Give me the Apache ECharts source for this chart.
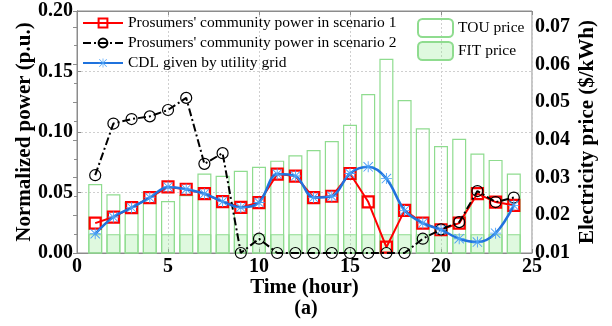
<!DOCTYPE html>
<html>
<head>
<meta charset="utf-8">
<script src="https://cdn.jsdelivr.net/npm/echarts@6/dist/echarts.min.js"></script>
<style>
  html, body { margin: 0; padding: 0; background: #fff; }
  #chart { width: 612px; height: 326px; }
</style>
</head>
<body>
<div id="chart"></div>
<script>
// Hourly data, one entry per hour 1..24
const hours = [1,2,3,4,5,6,7,8,9,10,11,12,13,14,15,16,17,18,19,20,21,22,23,24];

// Prosumers' community power (p.u.) in scenario 1 and 2
const scenario1 = [0.0247,0.0297,0.0375,0.0458,0.0546,0.0527,0.0490,0.0425,0.0377,0.0417,0.0652,0.0636,
                   0.0458,0.0469,0.0657,0.0423,0.0048,0.0352,0.0247,0.0192,0.0247,0.0490,0.0421,0.0394];
const scenario2 = [0.0643,0.1070,0.1107,0.1129,0.1182,0.1282,0.0737,0.0825,0.0000,0.0118,0.0000,0.0000,
                   0.0000,0.0000,0.0000,0.0000,0.0000,0.0000,0.0118,0.0195,0.0255,0.0512,0.0421,0.0458];
// Customized demand limit given by the utility grid (p.u.)
const cdl = [0.0159,0.0297,0.0375,0.0458,0.0546,0.0527,0.0490,0.0425,0.0377,0.0417,0.0652,0.0636,
             0.0458,0.0469,0.0657,0.0712,0.0615,0.0352,0.0247,0.0192,0.0118,0.0090,0.0164,0.0394];

// Electricity prices ($/kWh)
const touPrice = [0.0283,0.0256,0.0236,0.0263,0.0238,0.0254,0.0311,0.0305,0.0318,0.0329,0.0345,0.0359,
                  0.0373,0.0397,0.0440,0.0522,0.0615,0.0506,0.0431,0.0384,0.0403,0.0364,0.0347,0.0311];
const fitPrice = [0.015,0.015,0.015,0.015,0.015,0.015,0.015,0.015,0.015,0.015,0.015,0.015,
                  0.015,0.015,0.015,0.015,0.015,0.015,0.015,0.015,0.015,0.015,0.015,0.015];

// Axis tick values
const xTicks = [0, 5, 10, 15, 20, 25];
const powerTicks = [0.00, 0.05, 0.10, 0.15, 0.20];
const priceTicks = [0.01, 0.02, 0.03, 0.04, 0.05, 0.06, 0.07];

const pair = (ys) => hours.map((h, i) => [h, ys[i]]);

const SERIF = "'Liberation Serif', 'Times New Roman', serif";
const FRAME = '#8c8c8c';

// Asterisk marker built from four thin bars
const STAR = 'path://M9.2,0L10.8,0L10.8,20L9.2,20Z' +
             'M0,9.2L20,9.2L20,10.8L0,10.8Z' +
             'M2.07,0.93L19.07,17.93L17.93,19.07L0.93,2.07Z' +
             'M19.07,2.07L2.07,19.07L0.93,17.93L17.93,0.93Z';

const chart = echarts.init(document.getElementById('chart'), null, { renderer: 'canvas' });

const tickLabel = { color: '#000', fontFamily: SERIF, fontWeight: 'bold', fontSize: 20 };
const axisName = { fontFamily: SERIF, fontWeight: 'bold', fontSize: 21, color: '#000' };

chart.setOption({
  animation: false,
  backgroundColor: '#fff',
  grid: { left: 77, right: 80, top: 11, bottom: 73, show: true, borderColor: FRAME, borderWidth: 1, backgroundColor: 'transparent' },
  legend: [
    {
      data: ["Prosumers' community power in scenario 1", "Prosumers' community power in scenario 2", 'CDL given by utility grid'],
      orient: 'vertical', left: 77, top: 10, itemWidth: 40, itemHeight: 11, itemGap: 4,
      textStyle: { fontFamily: SERIF, fontSize: 15.5, color: '#000' }
    },
    {
      data: ['TOU price', 'FIT price'],
      orient: 'vertical', left: 412, top: 13, itemWidth: 35, itemHeight: 18, itemGap: 3,
      textStyle: { fontFamily: SERIF, fontSize: 15.5, color: '#000' }
    }
  ],
  xAxis: [
    {
      type: 'value', min: xTicks[0], max: xTicks[xTicks.length - 1], interval: 5,
      name: 'Time (hour)', nameLocation: 'middle', nameGap: 24, nameMoveOverlap: false,
      nameTextStyle: axisName,
      axisLine: { lineStyle: { color: FRAME } },
      axisTick: { inside: true, length: 4, lineStyle: { color: FRAME } },
      axisLabel: Object.assign({ margin: 4 }, tickLabel),
      splitLine: { show: true, lineStyle: { color: '#cfcfcf', type: [2, 2] } }
    },
    {
      type: 'value', position: 'top', min: xTicks[0], max: xTicks[xTicks.length - 1], interval: 5,
      axisLine: { lineStyle: { color: FRAME } },
      axisTick: { inside: true, length: 4, lineStyle: { color: FRAME } },
      axisLabel: { show: false }, splitLine: { show: false }
    }
  ],
  yAxis: [
    {
      type: 'value', min: powerTicks[0], max: powerTicks[powerTicks.length - 1], interval: 0.05,
      name: 'Normalized power (p.u.)', nameLocation: 'middle', nameGap: 42, nameMoveOverlap: false,
      nameTextStyle: axisName,
      axisLine: { show: true, lineStyle: { color: FRAME } },
      axisTick: { show: true, inside: true, length: 4, lineStyle: { color: FRAME } },
      axisLabel: Object.assign({ margin: 4, formatter: v => v.toFixed(2) }, tickLabel),
      splitLine: { show: true, lineStyle: { color: '#cfcfcf', type: [2, 2] } }
    },
    {
      type: 'value', position: 'right', min: priceTicks[0], max: 0.0742, interval: 0.01,
      name: 'Electricity price ($/kWh)', nameLocation: 'middle', nameGap: 45, nameRotate: 90, nameMoveOverlap: false,
      nameTextStyle: axisName,
      axisLine: { show: true, lineStyle: { color: FRAME } },
      axisTick: { show: true, inside: true, length: 4, lineStyle: { color: FRAME } },
      minorTick: { show: true, splitNumber: 2, length: 3, lineStyle: { color: FRAME } },
      axisLabel: Object.assign({ margin: 3, showMaxLabel: false, formatter: v => v.toFixed(2) }, tickLabel),
      splitLine: { show: false }
    }
  ],
  graphic: [
    { type: 'text', left: 'center', top: 299, style: { text: '(a)', font: "bold 20px 'Liberation Serif', serif", fill: '#000' } }
  ],
  series: [
    {
      name: 'TOU price', type: 'bar', xAxisIndex: 0, yAxisIndex: 1, barWidth: 14, barGap: '-100%',
      data: pair(touPrice), z: 1,
      itemStyle: { color: 'rgba(255,255,255,0)', borderColor: '#8fdc8f', borderWidth: 1.2 }
    },
    {
      name: 'FIT price', type: 'bar', xAxisIndex: 0, yAxisIndex: 1, barWidth: 14, barGap: '-100%',
      data: pair(fitPrice), z: 1,
      itemStyle: { color: 'rgba(150,235,150,0.3)', borderColor: '#8fdc8f', borderWidth: 1.2 }
    },
    {
      name: "Prosumers' community power in scenario 1", type: 'line', xAxisIndex: 0, yAxisIndex: 0,
      data: pair(scenario1), z: 3,
      symbol: 'rect', symbolSize: 11,
      lineStyle: { color: '#ff0000', width: 2 },
      itemStyle: { color: 'rgba(255,255,255,0)', borderColor: '#ff0000', borderWidth: 2.2 }
    },
    {
      name: "Prosumers' community power in scenario 2", type: 'line', xAxisIndex: 0, yAxisIndex: 0,
      data: pair(scenario2), z: 4,
      symbol: 'circle', symbolSize: 11,
      lineStyle: { color: '#000', width: 2, type: [8, 3, 2, 3] },
      itemStyle: { color: 'rgba(255,255,255,0)', borderColor: '#000', borderWidth: 1.2 }
    },
    {
      name: 'CDL given by utility grid', type: 'line', xAxisIndex: 0, yAxisIndex: 0,
      data: pair(cdl), z: 5, smooth: 0.35,
      symbol: STAR, symbolSize: 11,
      lineStyle: { color: '#1f72dd', width: 2.5 },
      itemStyle: { color: '#4aa0f5' }
    }
  ]
});
</script>
</body>
</html>
